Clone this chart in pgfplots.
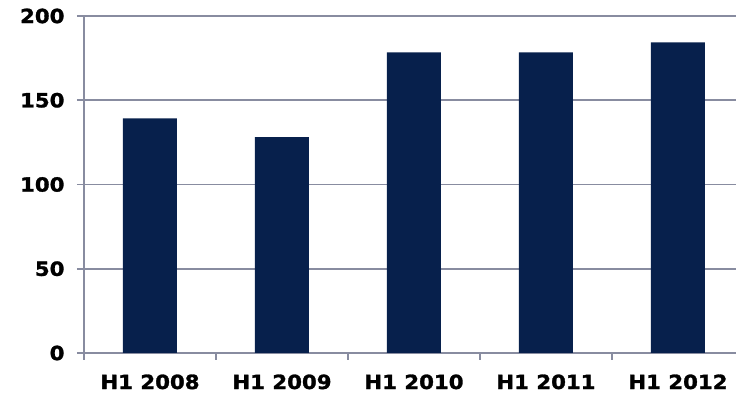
\documentclass[border=0pt]{standalone}
\usepackage{pgfplots}
\pgfplotsset{compat=1.18}
\usepackage{fontspec}
\setmainfont{DejaVu Sans}[FakeStretch=1.09, BoldFeatures={FakeBold=1.5}]
\definecolor{barblue}{RGB}{7,32,76}
\definecolor{gridc}{RGB}{136,140,160}
\begin{document}
\begin{tikzpicture}[x=1pt,y=1pt]
\useasboundingbox (-84,-42) rectangle (652,353);
\begin{axis}[
  at={(0,0)}, anchor=south west,
  scale only axis, width=652pt, height=337pt,
  xmin=-0.5, xmax=4.44, ymin=0, ymax=200,
  axis x line=bottom, axis y line=left,
  axis line style={-, draw=gridc, line width=1.8pt},
  ytick={0,50,100,150,200},
  ymajorgrids, grid style={draw=gridc, line width=1.8pt},
  tick align=outside, major tick length=7pt,
  tick style={draw=gridc, line width=1.8pt},
  xtick={-0.5,0.5,1.5,2.5,3.5}, xticklabels={},
  extra x ticks={0,1,2,3,4},
  extra x tick labels={H1 2008,H1 2009,H1 2010,H1 2011,H1 2012},
  extra x tick style={major tick length=0pt, grid=none,
    xticklabel style={yshift=-18pt}},
  ticklabel style={font=\bfseries\fontsize{19.5}{20}\selectfont, text=black},
  yticklabel style={xshift=-9pt},
  /pgf/number format/assume math mode=true,
  ybar, bar width=54pt,
]
\addplot[fill=barblue, draw=none, bar shift=0pt] coordinates {(0,139.3) (1,128.1) (2,178.4) (3,178.4) (4,184.3)};
\end{axis}
\end{tikzpicture}
\end{document}
